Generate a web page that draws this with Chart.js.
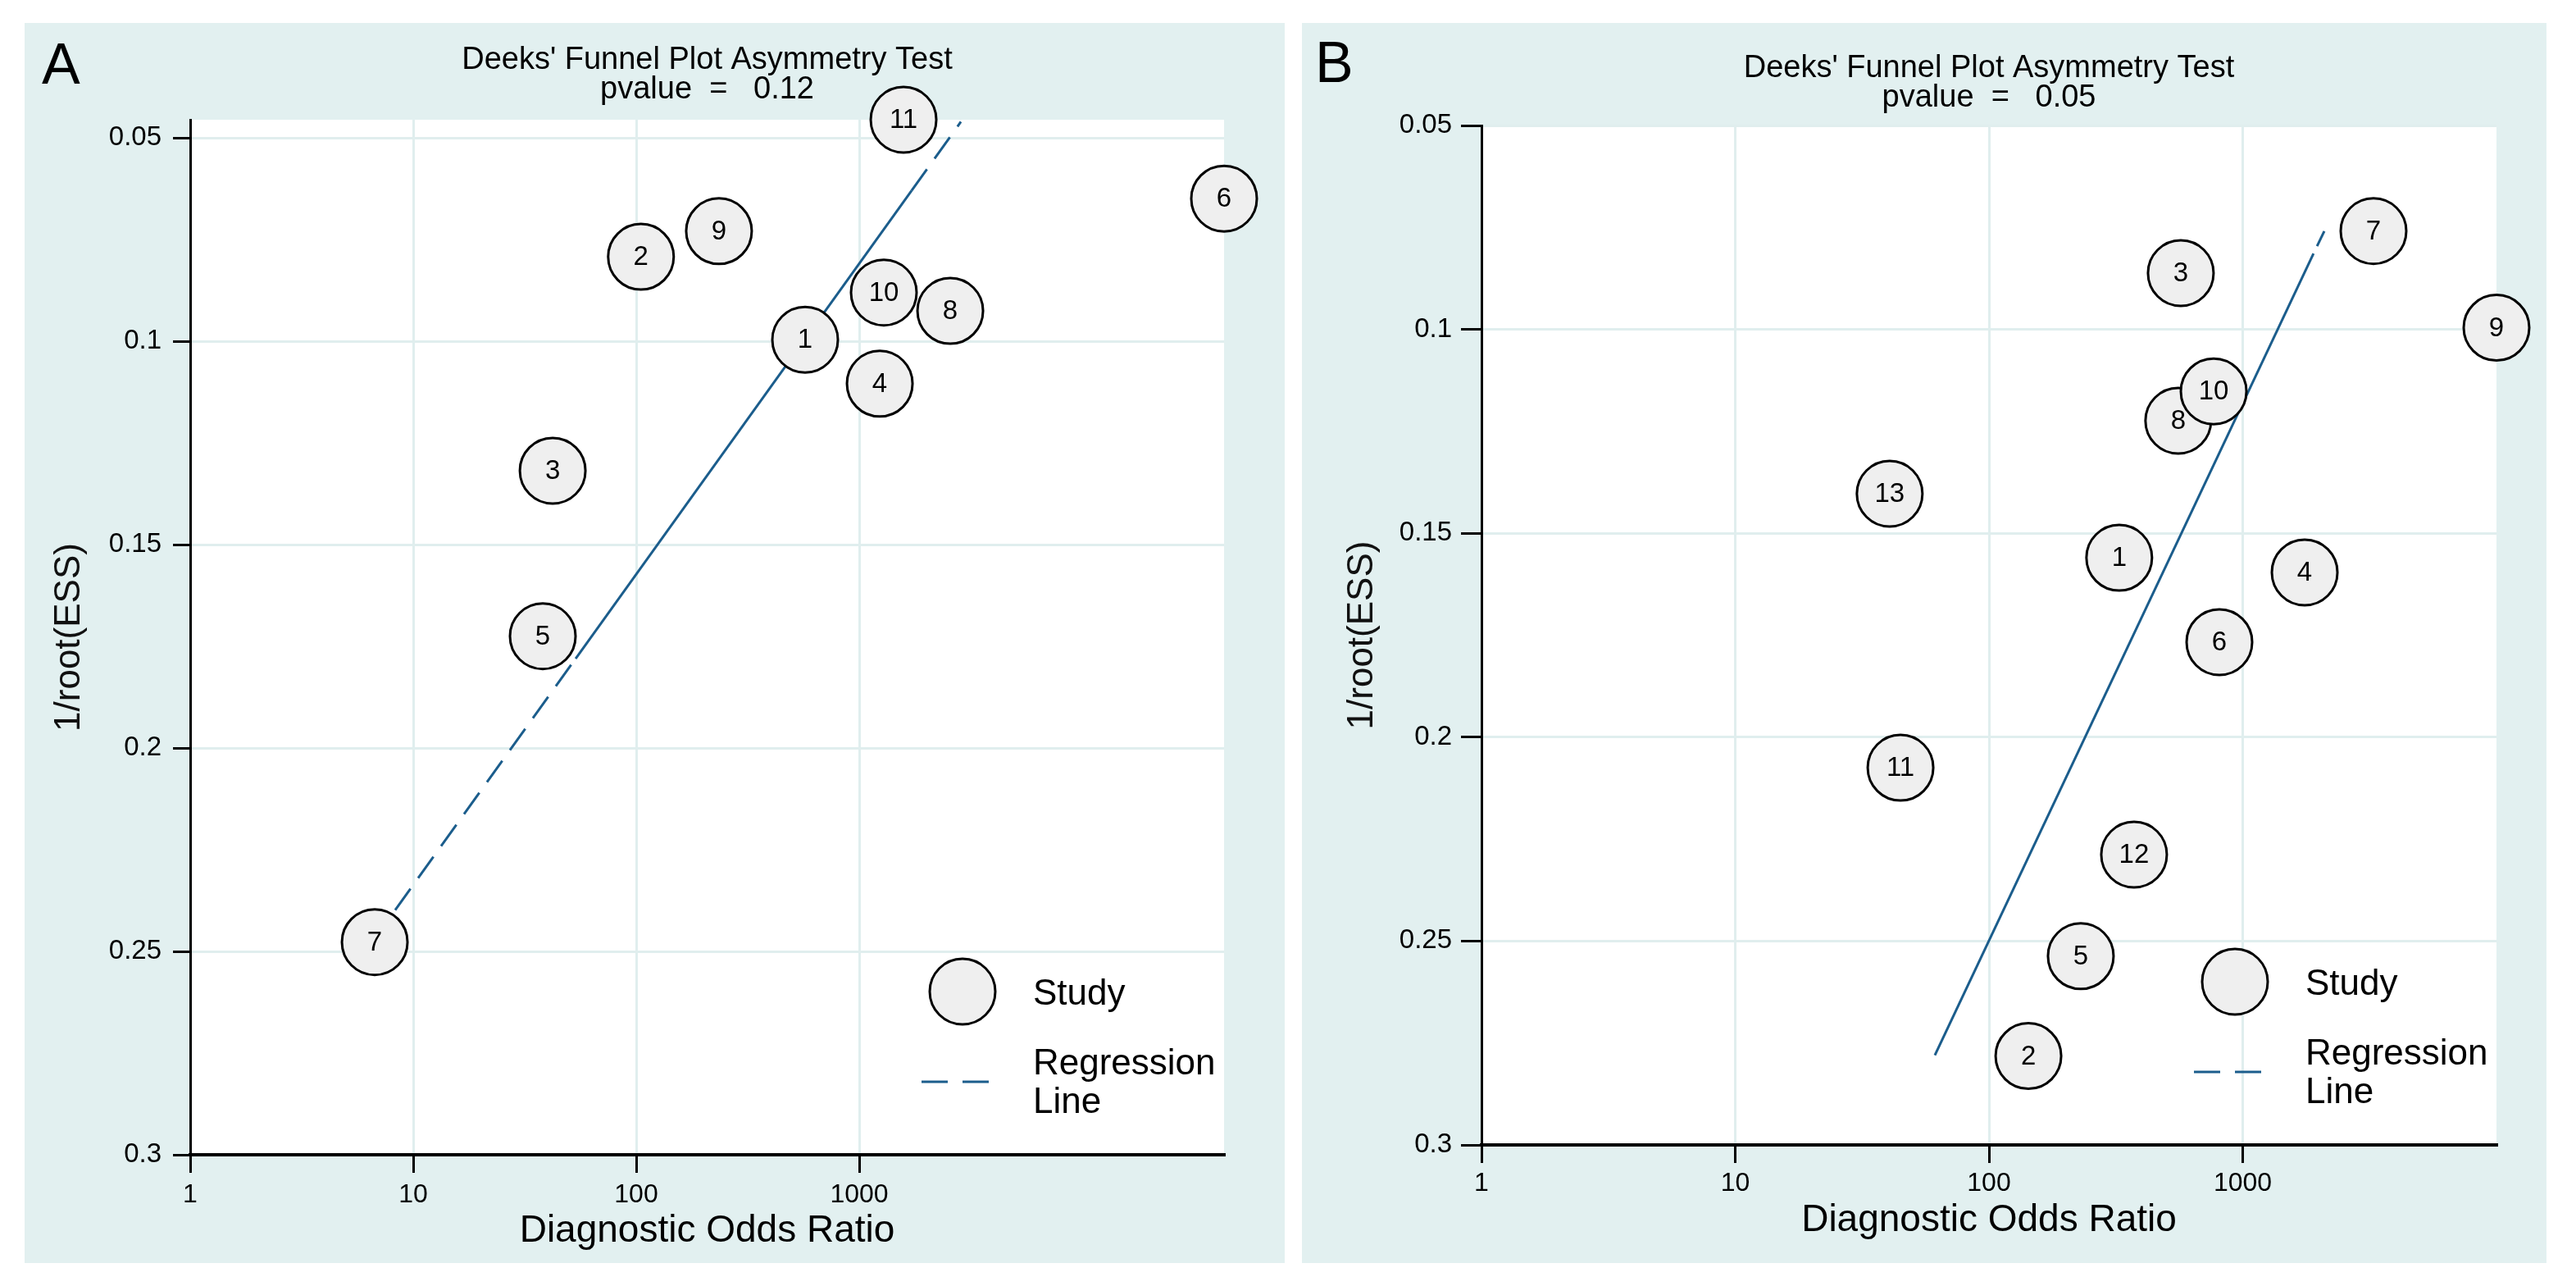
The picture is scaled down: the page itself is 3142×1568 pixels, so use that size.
<!DOCTYPE html>
<html>
<head>
<meta charset="utf-8">
<script src="https://cdn.jsdelivr.net/npm/chart.js@4/dist/chart.umd.min.js"></script>
<style>
  body { margin: 0; background: #fff; width: 3142px; height: 1568px; position: relative; overflow: hidden; }
  .panel { position: absolute; background: #e2f0f0; }
  .panel canvas { position: absolute; left: 0; top: 0; }
  .tag { position: absolute; font-family: "Liberation Sans", Arial, sans-serif; font-size: 70px; line-height: 70px; color: #000; }
</style>
</head>
<body>
<div class="panel" id="panelA" style="left:30px;top:28px;width:1537px;height:1512px;">
  <canvas id="chartA" width="1537" height="1512"></canvas>
</div>
<div class="panel" id="panelB" style="left:1588px;top:28px;width:1518px;height:1512px;">
  <canvas id="chartB" width="1518" height="1512"></canvas>
</div>
<div class="tag" style="left:51px;top:43px;">A</div>
<div class="tag" style="left:1604px;top:41px;">B</div>

<script>
// ---- panel A data ----
const studyA = ["1", "2", "3", "4", "5", "6", "7", "8", "9", "10", "11"];
const dorA = [572, 105, 42.2, 1236, 38.1, 43250, 6.72, 2560, 235, 1289, 1580];
const invEssA = [0.0996, 0.0792, 0.1318, 0.1104, 0.1725, 0.0649, 0.2477, 0.0925, 0.0729, 0.088, 0.0455];
// regression line: ends plus the two points where the drawn style changes
const regDorA = [6.55, 53.5, 1718, 2857];
const regInvEssA = [0.2477, 0.178, 0.0629, 0.046];
const pvalueA = "0.12";

// ---- panel B data ----
const studyB = ["1", "2", "3", "4", "5", "6", "7", "8", "9", "10", "11", "12", "13"];
const dorB = [326, 143, 570, 1754, 230, 809, 3276, 557, 10000, 768, 44.8, 373, 40.6];
const invEssB = [0.156, 0.2782, 0.0862, 0.1596, 0.2537, 0.1767, 0.0759, 0.1224, 0.0996, 0.1152, 0.2075, 0.2288, 0.1403];
const regDorB = [61.2, 1901, 1963, 2096];
const regInvEssB = [0.278, 0.0814, 0.0796, 0.0759];
const pvalueB = "0.05";

// ---- axes ----
const xTicks = [1, 10, 100, 1000];
const yTicks = [0.05, 0.1, 0.15, 0.2, 0.25, 0.3];
const yTickLabels = ["0.05", "0.1", "0.15", "0.2", "0.25", "0.3"];
const xRangeA = [1, 43250];
const yRangeA = [0.0455, 0.3];
const xRangeB = [1, 10000];
const yRangeB = [0.05, 0.3];

const FONT = '"Liberation Sans", Arial, Helvetica, sans-serif';
const NAVY = "#1b5d8c";
const GRID = "#e0eeee";
const DASH = [32, 16];

const toPoints = (xs, ys) => xs.map((x, i) => ({ x: x, y: ys[i] }));

const funnelExtras = {
  id: "funnelExtras",
  beforeDraw(chart) {
    const { ctx, chartArea: a } = chart;
    ctx.save();
    ctx.fillStyle = "#fff";
    ctx.fillRect(a.left, a.top, a.right - a.left, a.bottom - a.top);
    ctx.restore();
  },
  afterDatasetsDraw(chart) {
    // study numbers inside the circles
    const ctx = chart.ctx;
    const meta = chart.getDatasetMeta(0);
    const ids = chart.data.datasets[0].studyIds;
    ctx.save();
    ctx.font = "33px " + FONT;
    ctx.fillStyle = "#000";
    ctx.textAlign = "center";
    ctx.textBaseline = "middle";
    meta.data.forEach((pt, i) => ctx.fillText(ids[i], pt.x, pt.y + 1));
    ctx.restore();
  },
  afterDraw(chart) {
    // legend inside the plot, lower right
    const { ctx, chartArea: a } = chart;
    ctx.save();
    ctx.beginPath();
    ctx.arc(a.right - 319, a.bottom - 199, 40, 0, Math.PI * 2);
    ctx.fillStyle = "#efefef";
    ctx.fill();
    ctx.lineWidth = 3;
    ctx.strokeStyle = "#000";
    ctx.stroke();

    ctx.beginPath();
    ctx.setLineDash([32, 18]);
    ctx.moveTo(a.right - 369, a.bottom - 89);
    ctx.lineTo(a.right - 285, a.bottom - 89);
    ctx.strokeStyle = NAVY;
    ctx.lineWidth = 3;
    ctx.stroke();
    ctx.setLineDash([]);

    ctx.font = "44px " + FONT;
    ctx.fillStyle = "#000";
    ctx.textAlign = "left";
    ctx.textBaseline = "alphabetic";
    ctx.fillText("Study", a.right - 233, a.bottom - 183);
    ctx.fillText("Regression", a.right - 233, a.bottom - 98);
    ctx.fillText("Line", a.right - 233, a.bottom - 51);
    ctx.restore();
  },
};

function makeFunnel(canvasId, d, L) {
  return new Chart(document.getElementById(canvasId), {
    type: "scatter",
    data: {
      datasets: [
        {
          label: "Study",
          studyIds: d.ids,
          data: toPoints(d.dor, d.ess),
          pointRadius: 40,
          pointHoverRadius: 40,
          pointBackgroundColor: "#efefef",
          pointBorderColor: "#000",
          pointBorderWidth: 3,
          pointHoverBorderWidth: 3,
          clip: false,
        },
        {
          label: "Regression Line",
          data: toPoints(d.regDor, d.regEss),
          showLine: true,
          borderColor: NAVY,
          borderWidth: 3,
          pointRadius: 0,
          pointHoverRadius: 0,
          clip: false,
          segment: {
            borderDash: (ctx) => (L.segDash[ctx.p0DataIndex] ? DASH : undefined),
            borderColor: (ctx) => (L.segHidden[ctx.p0DataIndex] ? "rgba(0,0,0,0)" : undefined),
          },
        },
      ],
    },
    options: {
      responsive: false,
      devicePixelRatio: 1,
      animation: false,
      events: [],
      layout: { padding: { left: 0, top: 0, right: L.padRight, bottom: 0 } },
      plugins: {
        legend: { display: false },
        tooltip: { enabled: false },
        title: {
          display: true,
          fullSize: false,
          text: ["Deeks' Funnel Plot Asymmetry Test", "pvalue  =   " + d.pvalue],
          color: "#000",
          font: { family: FONT, size: 38, weight: "normal", lineHeight: 36 / 38 },
          padding: { top: L.titleTop, bottom: L.titleBottom },
        },
      },
      scales: {
        x: {
          type: "logarithmic",
          position: "bottom",
          min: d.xRange[0],
          max: d.xRange[1],
          afterBuildTicks: (s) => { s.ticks = xTicks.map((v) => ({ value: v })); },
          afterFit: (s) => { s.height = L.xHeight; },
          ticks: {
            autoSkip: false,
            maxRotation: 0,
            color: "#000",
            padding: L.xTickPad,
            font: { family: FONT, size: 32, lineHeight: 1 },
            callback: (v) => String(v),
          },
          grid: { color: GRID, lineWidth: 3, tickColor: "#000", tickWidth: 3, tickLength: 22 },
          border: { color: "#000", width: 4 },
          title: {
            display: true,
            text: "Diagnostic Odds Ratio",
            color: "#000",
            font: { family: FONT, size: 46, lineHeight: 1 },
            padding: { top: 0, bottom: L.xTitlePad },
          },
        },
        y: {
          type: "linear",
          reverse: true,
          min: d.yRange[0],
          max: d.yRange[1],
          afterBuildTicks: (s) => { s.ticks = yTicks.map((v) => ({ value: v })); },
          afterFit: (s) => { s.width = L.yWidth; },
          ticks: {
            color: "#000",
            padding: L.yTickPad,
            font: { family: FONT, size: 33 },
            callback: (v) => yTickLabels[yTicks.indexOf(v)],
          },
          grid: { color: GRID, lineWidth: 3, tickColor: "#000", tickWidth: 3, tickLength: L.yTickLen },
          border: { color: "#000", width: 3 },
          title: {
            display: true,
            text: "1/root(ESS)",
            color: "#111",
            font: { family: FONT, size: 44, lineHeight: 1 },
            padding: { top: L.yTitlePad, bottom: 0 },
          },
        },
      },
    },
    plugins: [funnelExtras],
  });
}

makeFunnel(
  "chartA",
  { ids: studyA, dor: dorA, ess: invEssA, regDor: regDorA, regEss: regInvEssA, pvalue: pvalueA, xRange: xRangeA, yRange: yRangeA },
  { padRight: 74, titleTop: 28, titleBottom: 18, xHeight: 132, yWidth: 202, xTickPad: 11, yTickPad: 14, yTickLen: 21,
    xTitlePad: 16, yTitlePad: 33, segDash: [true, false, true], segHidden: [false, false, false] }
);

makeFunnel(
  "chartB",
  { ids: studyB, dor: dorB, ess: invEssB, regDor: regDorB, regEss: regInvEssB, pvalue: pvalueB, xRange: xRangeB, yRange: yRangeB },
  { padRight: 61, titleTop: 38, titleBottom: 15, xHeight: 144, yWidth: 219, xTickPad: 9, yTickPad: 11, yTickLen: 25,
    xTitlePad: 29, yTitlePad: 52, segDash: [false, false, false], segHidden: [false, true, false] }
);
</script>
</body>
</html>
